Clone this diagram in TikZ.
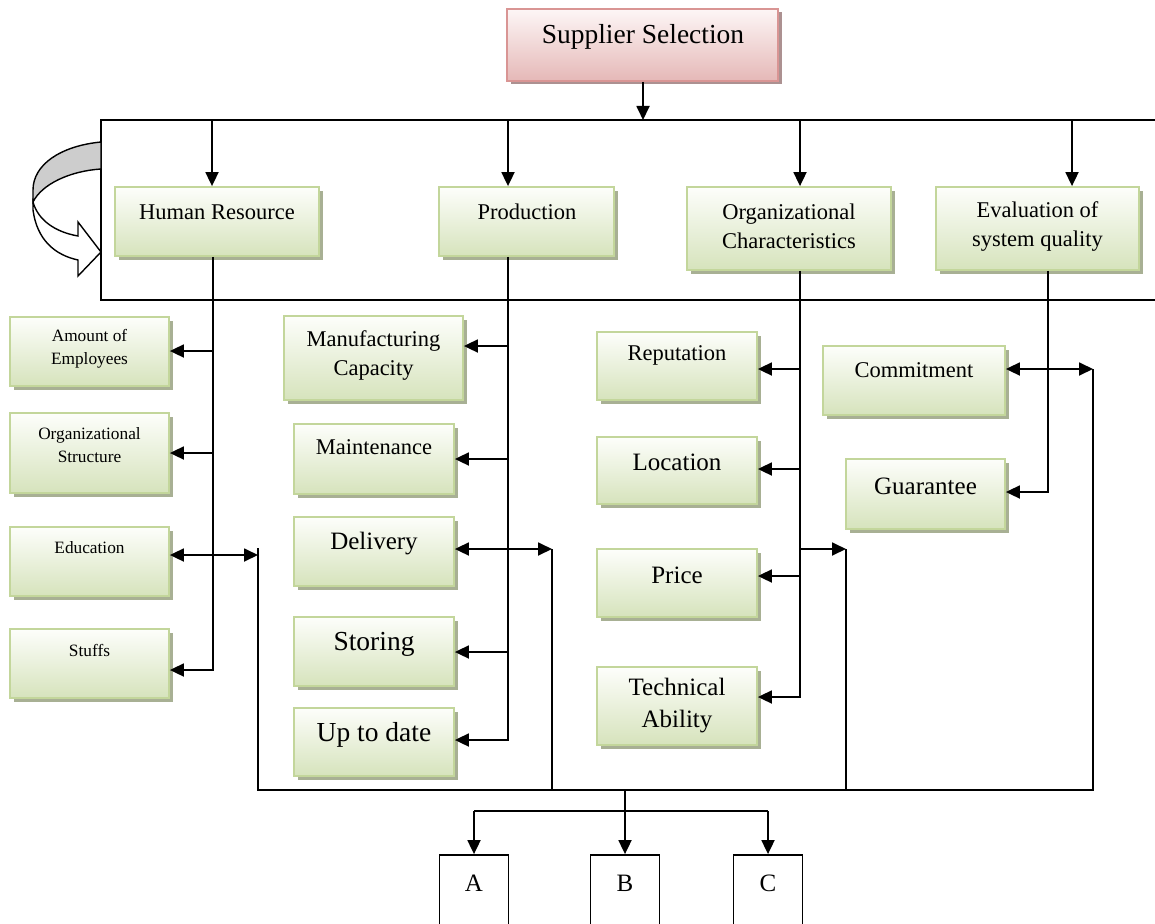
\documentclass[tikz,border=0pt]{standalone}
\usepackage{fontspec}
\setmainfont{Liberation Serif}
\usetikzlibrary{arrows.meta,shadows,calc}
\definecolor{gtop}{RGB}{253,254,251}
\definecolor{gbot}{RGB}{214,227,188}
\definecolor{gborder}{RGB}{195,214,155}
\definecolor{gshadow}{RGB}{168,176,148}
\definecolor{ptop}{RGB}{253,246,246}
\definecolor{pbot}{RGB}{229,184,183}
\definecolor{pborder}{RGB}{217,149,148}
\definecolor{pshadow}{RGB}{172,145,145}
\definecolor{band}{RGB}{205,205,205}
\tikzset{
  gbox/.style={draw=gborder, line width=1.8pt, top color=gtop, bottom color=gbot, inner sep=0pt,
    drop shadow={shadow xshift=3.5pt, shadow yshift=-3.5pt, fill=gshadow, opacity=1}},
  pbox/.style={draw=pborder, line width=1.8pt, top color=ptop, bottom color=pbot, inner sep=0pt,
    drop shadow={shadow xshift=3.5pt, shadow yshift=-3.5pt, fill=pshadow, opacity=1}},
  abox/.style={draw, line width=1.8pt, inner sep=0pt, minimum width=69pt, minimum height=75pt},
  ln/.style={line width=1.8pt},
  arr/.style={line width=1.8pt, -{Triangle[length=14pt,width=13pt]}},
  darr/.style={line width=1.8pt, {Triangle[length=14pt,width=13pt]}-{Triangle[length=14pt,width=13pt]}},
  fa/.style={font=\fontsize{17.3}{23}\selectfont, align=center, inner sep=0pt},
  fb/.style={font=\fontsize{22.5}{29}\selectfont, align=center, inner sep=0pt},
  fc/.style={font=\fontsize{25}{32}\selectfont, align=center, inner sep=0pt},
  fd/.style={font=\fontsize{27.5}{33}\selectfont, align=center, inner sep=0pt},
}
\begin{document}
\begin{tikzpicture}[x=1pt,y=-1pt]
\useasboundingbox (0,0) rectangle (1155,923);
\clip (0,0) rectangle (1155,923);

% top box
\node[pbox, minimum width=271pt, minimum height=72pt] (sup) at (642.5,45) {};
\node[fd] (supt) at (643,37) {Supplier Selection};

% frame
\coordinate (TL) at (101,120);
\coordinate (TR) at (1160,120);
\coordinate (BL) at (101,300);
\coordinate (BR) at (1160,300);
\draw[ln] (TR) -- (TL) -- (BL) -- (BR);

% curved arrow
\draw[line width=1.4pt, fill=band] (101,142) .. controls (60,146) and (33,165) .. (33,190) -- (33,202) .. controls (42,184) and (70,171) .. (101,169) -- cycle;
\draw[line width=1.4pt, fill=white] (33,202) -- (33,210) .. controls (37,240) and (55,255) .. (78,260) -- (78,276) -- (101,252) -- (78,222) -- (78,236) .. controls (55,232) and (38,220) .. (33,202) -- cycle;

% level 1
\node[gbox, minimum width=204pt, minimum height=69pt] (hr) at (217,221.5) {};
\node[fb] (hrt) at (217,212) {Human Resource};
\node[gbox, minimum width=175pt, minimum height=69pt] (prod) at (526.5,221.5) {};
\node[fb] (prodt) at (527,212) {Production};
\node[gbox, minimum width=204pt, minimum height=83pt] (org) at (789,228.5) {};
\node[fb] (orgt) at (789,226.5) {Organizational\\Characteristics};
\node[gbox, minimum width=203pt, minimum height=83pt] (eval) at (1037.5,228.5) {};
\node[fb] (evalt) at (1037.5,226.5) {Evaluation of\\system quality};

% human resource column
\node[gbox, minimum width=159pt, minimum height=69pt] (amt) at (89.5,351.5) {};
\node[fa] (amtt) at (89.5,348.5) {Amount of\\Employees};
\node[gbox, minimum width=159pt, minimum height=80pt] (ostr) at (89.5,453) {};
\node[fa] (ostrt) at (89.5,445.5) {Organizational\\Structure};
\node[gbox, minimum width=159pt, minimum height=69pt] (edu) at (89.5,561.5) {};
\node[fa] (edut) at (89.5,548) {Education};
\node[gbox, minimum width=159pt, minimum height=69pt] (stf) at (89.5,663.5) {};
\node[fa] (stft) at (89.5,650) {Stuffs};

% production column
\node[gbox, minimum width=179pt, minimum height=84pt] (mfg) at (373.5,358) {};
\node[fb] (mfgt) at (373.5,355.5) {Manufacturing\\Capacity};
\node[gbox, minimum width=160pt, minimum height=70pt] (mnt) at (374,459) {};
\node[fb] (mntt) at (374,447) {Maintenance};
\node[gbox, minimum width=160pt, minimum height=69pt] (del) at (374,551.5) {};
\node[fc] (delt) at (374,544) {Delivery};
\node[gbox, minimum width=160pt, minimum height=69pt] (sto) at (374,651.5) {};
\node[fd] (stot) at (374,644) {Storing};
\node[gbox, minimum width=160pt, minimum height=68pt] (upd) at (374,742) {};
\node[fd] (updt) at (374,735) {Up to date};

% organizational column
\node[gbox, minimum width=160pt, minimum height=68pt] (rep) at (677,366) {};
\node[fb] (rept) at (677,355) {Reputation};
\node[gbox, minimum width=160pt, minimum height=67pt] (loc) at (677,470.5) {};
\node[fc] (loct) at (677,462) {Location};
\node[gbox, minimum width=160pt, minimum height=68pt] (pri) at (677,583) {};
\node[fc] (prit) at (677,575) {Price};
\node[gbox, minimum width=160pt, minimum height=78pt] (tec) at (677,706) {};
\node[fc] (tect) at (677,706) {Technical\\Ability};

% evaluation column
\node[gbox, minimum width=182pt, minimum height=69pt] (com) at (914,380.5) {};
\node[fb] (comt) at (914,370) {Commitment};
\node[gbox, minimum width=159pt, minimum height=70pt] (gua) at (925.5,494) {};
\node[fc] (guat) at (925.5,486) {Guarantee};

% A B C
\node[abox] (A) at (474,892.5) {};
\node[fc] (At) at (474,883) {A};
\node[abox] (B) at (625,892.5) {};
\node[fc] (Bt) at (625,883) {B};
\node[abox] (C) at (768,892.5) {};
\node[fc] (Ct) at (768,883) {C};

% connectors from top
\coordinate (supS) at ([xshift=0.5pt]sup.south);
\draw[arr] (supS) -- (supS |- TL);
\coordinate (hrN) at ([xshift=-5pt]hr.north);
\coordinate (prN) at ([xshift=-18.5pt]prod.north);
\coordinate (orN) at ([xshift=11pt]org.north);
\coordinate (evN) at ([xshift=34.5pt]eval.north);
\draw[arr] (hrN |- TL) -- (hrN);
\draw[arr] (prN |- TL) -- (prN);
\draw[arr] (orN |- TL) -- (orN);
\draw[arr] (evN |- TL) -- (evN);

% human resource trunk
\coordinate (hrS) at ([xshift=-4pt]hr.south);
\coordinate (amtE) at ([yshift=0.5pt]amt.east);
\coordinate (stfE) at ([yshift=-6.5pt]stf.east);
\coordinate (eduE) at ([yshift=6.5pt]edu.east);
\coordinate (L1) at (258,548);
\coordinate (L2) at (258,790);
\draw[arr] (hrS) |- (stfE);
\draw[arr] (hrS |- amtE) -- (amtE);
\draw[arr] (hrS |- ostr.east) -- (ostr.east);
\draw[darr] (eduE) -- (eduE -| L1);

% production trunk
\coordinate (pS) at ([xshift=-18.5pt]prod.south);
\coordinate (mfgE) at ([yshift=12pt]mfg.east);
\coordinate (updE) at ([yshift=2pt]upd.east);
\coordinate (delE) at ([yshift=2.5pt]del.east);
\coordinate (stoE) at ([yshift=-0.5pt]sto.east);
\coordinate (M1) at (552,549);
\draw[arr] (pS) |- (updE);
\draw[arr] (pS |- mfgE) -- (mfgE);
\draw[arr] (pS |- mnt.east) -- (mnt.east);
\draw[arr] (pS |- stoE) -- (stoE);
\draw[darr] (delE) -- (M1);

% organizational trunk
\coordinate (oS) at ([xshift=11pt]org.south);
\coordinate (tecE) at ([yshift=9pt]tec.east);
\coordinate (repE) at ([yshift=-3pt]rep.east);
\coordinate (locE) at ([yshift=1.5pt]loc.east);
\coordinate (priE) at ([yshift=7pt]pri.east);
\coordinate (R1) at (846,549);
\draw[arr] (oS) |- (tecE);
\draw[arr] (oS |- repE) -- (repE);
\draw[arr] (oS |- locE) -- (locE);
\draw[arr] (oS |- priE) -- (priE);
\draw[arr] (R1 -| oS) -- (R1);

% evaluation trunk
\coordinate (eS) at ([xshift=10.5pt]eval.south);
\coordinate (guaE) at ([yshift=2pt]gua.east);
\coordinate (comE) at ([yshift=11.5pt]com.east);
\coordinate (R2) at (1093,369);
\coordinate (R2b) at (1093,790);
\draw[arr] (eS) |- (guaE);
\draw[darr] (comE) -- (R2);

% bottom bus
\draw[ln] (L1) -- (L2) -- (R2b) -- (R2);
\draw[ln] (M1) -- (M1 |- L2);
\draw[ln] (R1) -- (R1 |- L2);
\coordinate (BB) at (625,790);
\coordinate (J) at (625,811);
\draw[arr] (BB) -- (BB |- B.north);
\draw[ln] (A.north |- J) -- (C.north |- J);
\draw[arr] (A.north |- J) -- (A.north);
\draw[arr] (C.north |- J) -- (C.north);
\end{tikzpicture}
\end{document}
